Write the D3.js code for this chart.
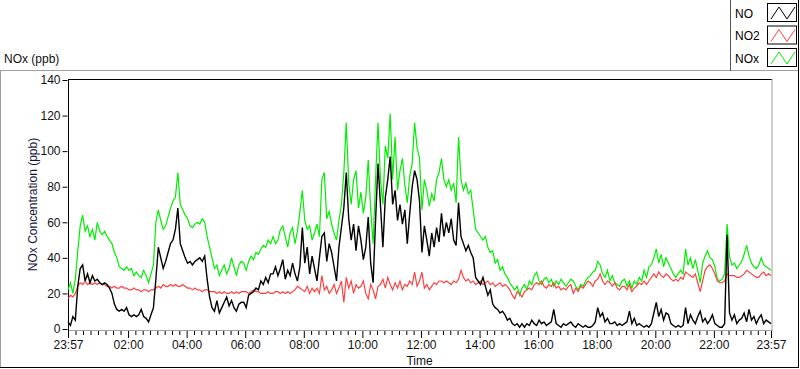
<!DOCTYPE html>
<html><head><meta charset="utf-8">
<script src="https://cdn.jsdelivr.net/npm/d3@7"></script>
<style>
body{margin:0;background:#fff;}
svg{display:block;font-family:"Liberation Sans",Arial,sans-serif;font-size:12px;}
</style>
</head><body>
<svg id="chart" width="800" height="369"></svg>
<script>
// ---- data (one reading every 5 minutes, starting 23:57) ----
const startClock = [23, 57];
const stepMinutes = 5;
const seriesNames = ["NO", "NO2", "NOx"];
const NO = [
 4,2,7,5,24,34,36,27,31,26,30,27,
 28,26,25,26,25,23,20,14,11,10,11,10,
 12,8,7,8,7,8,11,7,6,4,8,12,
 28,46,40,34,38,43,48,50,56,68,48,44,
 40,37,38,36,38,39,40,38,41,28,18,12,
 10,16,9,12,15,18,13,16,12,10,14,15,
 15,12,19,20,21,23,22,27,25,29,26,31,
 31,35,30,34,39,28,33,30,37,31,27,35,
 57,37,46,31,41,34,27,40,52,54,38,48,
 43,35,27,46,57,68,88,62,50,59,44,58,
 50,39,46,63,37,26,61,93,70,46,74,84,
 97,70,78,61,70,59,67,48,65,80,89,84,
 72,43,58,50,41,54,46,57,49,65,52,60,
 54,62,50,47,71,52,48,44,47,43,40,29,
 27,25,29,24,19,22,14,12,11,9,10,8,
 5,6,3,2,3,1,3,1,3,2,5,3,
 2,5,3,4,2,3,4,11,3,2,1,3,
 2,3,4,2,1,3,2,1,2,1,1,2,
 4,12,7,9,4,6,3,3,4,2,3,2,
 3,4,10,3,6,2,3,2,1,2,1,3,
 9,15,7,11,5,9,8,3,2,1,2,1,
 2,12,3,8,5,3,7,10,4,6,3,5,
 8,3,2,1,1,3,53,9,5,8,3,5,
 6,9,4,11,5,7,3,6,8,3,5,4,
 3];
const NO2 = [
 17,19,18,20,24,26,25,27,25,26,25,26,
 25,26,25,25,24,24,23,24,23,23,24,23,
 23,22,22,23,22,22,21,22,22,21,22,22,
 23,24,23,25,24,24,25,24,25,24,24,25,
 24,23,23,22,23,22,22,21,22,22,21,21,
 21,20,21,20,21,20,20,21,20,21,20,21,
 21,21,20,21,22,21,21,20,20,20,21,20,
 20,21,21,20,21,20,21,20,21,22,24,23,
 22,21,24,20,23,21,23,20,30,22,24,20,
 22,25,20,23,27,15,29,23,27,20,25,23,
 24,27,20,17,25,22,17,24,25,28,23,29,
 25,22,26,23,27,22,25,24,27,25,32,24,
 27,32,23,25,22,24,26,25,27,27,26,27,
 26,25,27,26,28,33,29,27,28,26,27,25,
 26,27,25,26,27,25,26,24,25,26,24,25,
 24,22,19,17,21,20,18,21,22,23,22,25,
 26,25,27,24,23,25,24,26,23,24,22,23,
 22,24,25,20,23,21,24,23,25,27,26,24,
 27,28,31,27,25,27,26,24,26,23,22,24,
 24,22,25,21,23,24,26,25,27,25,27,29,
 31,29,32,30,29,31,30,28,27,28,27,29,
 28,32,31,30,29,31,26,21,27,33,35,36,
 34,31,27,26,26,27,31,30,30,30,29,29,
 30,31,33,32,31,30,29,29,31,32,30,31,
 30];
const NOx = [
 22,26,20,28,44,58,64,55,58,52,56,50,
 60,55,53,55,52,50,48,43,40,35,34,33,
 35,33,34,30,32,30,29,33,30,26,31,36,
 60,67,61,56,58,63,68,72,74,88,70,67,
 64,62,58,57,59,60,59,62,60,52,46,40,
 34,36,30,33,36,31,34,40,35,30,36,38,
 37,33,38,41,39,43,42,45,47,46,50,48,
 52,48,50,56,58,52,46,54,57,48,55,66,
 78,61,56,58,50,54,59,52,84,88,62,66,
 59,54,50,61,70,88,116,82,70,84,89,68,
 77,65,74,95,67,48,84,116,84,70,103,96,
 121,84,108,78,89,96,81,71,86,93,116,102,
 96,67,84,78,69,76,72,84,88,96,84,80,
 84,78,82,71,108,84,78,82,76,78,67,56,
 54,52,50,52,46,43,44,37,39,33,35,31,
 29,26,24,22,24,19,23,25,22,27,25,30,
 32,27,25,28,29,26,28,24,27,25,28,26,
 24,26,28,27,24,22,25,24,27,29,30,32,
 33,38,36,31,29,33,27,30,26,25,24,27,
 28,24,27,23,27,25,29,27,33,29,35,36,
 40,45,37,42,35,40,37,34,31,29,31,33,
 31,45,36,40,34,39,33,26,37,41,44,40,
 39,35,28,27,28,31,59,41,36,37,34,36,
 38,42,47,41,37,35,34,36,40,36,35,34,
 33];
const yTicks = [0, 20, 40, 60, 80, 100, 120, 140];
const xTickLabels = ["23:57","02:00","04:00","06:00","08:00","10:00","12:00","14:00","16:00","18:00","20:00","22:00","23:57"];
const colors = {NO: "#000000", NO2: "#ff4040", NOx: "#00ee00"};

// ---- scales ----
const svg = d3.select("#chart");
const t0 = new Date(2020, 0, 1, startClock[0], startClock[1]);
const tEnd = new Date(t0.getTime() + 24 * 60 * 60000);
const timeAt = i => new Date(t0.getTime() + i * stepMinutes * 60000);
const plot = {left: 68, right: 771, top: 80, bottom: 329};
const x = d3.scaleTime().domain([t0, tEnd]).range([plot.left, plot.right]);
const y = d3.scaleLinear().domain([0, 140]).range([plot.bottom, plot.top]);

// major tick dates from labels
const majorDates = xTickLabels.map((lab, k) => {
  if (k === 0) return t0;
  if (k === xTickLabels.length - 1) return tEnd;
  const [h, m] = lab.split(":").map(Number);
  return new Date(2020, 0, 2, h, m);
});
const minorDates = [];
for (let k = 0; k < majorDates.length - 1; k++) {
  const a = majorDates[k].getTime(), b = majorDates[k + 1].getTime();
  if (k === 0) {
    for (let j = 1; j < 8; j++) minorDates.push(new Date(a + (b - a) * j / 8));
  } else {
    for (let m = a + 15 * 60000; m < b - 60000; m += 15 * 60000) minorDates.push(new Date(m));
  }
}

// ---- outer panel ----
svg.append("line").attr("x1", 0).attr("x2", 799).attr("y1", 70.5).attr("y2", 70.5).attr("stroke", "#a0a0a0");
svg.append("line").attr("x1", 0.5).attr("x2", 0.5).attr("y1", 70).attr("y2", 368).attr("stroke", "#a0a0a0");
svg.append("line").attr("x1", 0).attr("x2", 799).attr("y1", 367.5).attr("y2", 367.5).attr("stroke", "#000");
svg.append("line").attr("x1", 798.5).attr("x2", 798.5).attr("y1", 0).attr("y2", 368).attr("stroke", "#000");

svg.append("text").attr("x", 4).attr("y", 63).attr("fill", "#111").text("NOx (ppb)");

// ---- legend ----
svg.append("line").attr("x1", 730.5).attr("x2", 730.5).attr("y1", 0).attr("y2", 71).attr("stroke", "#555");
const rowsY = [13, 35.5, 58];
seriesNames.forEach((name, k) => {
  const cy = rowsY[k];
  svg.append("text").attr("x", 735).attr("y", cy + 4.5).attr("fill", "#000").text(name);
  svg.append("rect").attr("x", 767.5).attr("y", cy - 9.5).attr("width", 29).attr("height", 18)
    .attr("fill", "#fff").attr("stroke", "#000");
  const zx = [771, 779, 787, 795], zy = [cy + 6, cy - 6, cy + 6, cy - 6];
  svg.append("polyline").attr("points", zx.map((v, i) => v + "," + zy[i]).join(" "))
    .attr("fill", "none").attr("stroke", colors[name]).attr("stroke-width", 1);
});

// ---- plot frame ----
svg.append("line").attr("x1", plot.left).attr("x2", 772).attr("y1", 79.5).attr("y2", 79.5).attr("stroke", "#000");
svg.append("line").attr("x1", 772).attr("x2", 772).attr("y1", 79).attr("y2", 331).attr("stroke", "#a0a0a0");
svg.append("line").attr("x1", plot.left).attr("x2", 772.5).attr("y1", 330.5).attr("y2", 330.5).attr("stroke", "#a0a0a0");
svg.append("line").attr("x1", 68.5).attr("x2", 68.5).attr("y1", 79).attr("y2", 331).attr("stroke", "#000");

// ---- y axis ----
const yAxis = d3.axisLeft(y).tickValues(yTicks).tickSize(5).tickPadding(2);
const gy = svg.append("g").attr("transform", "translate(67.5,0)").call(yAxis);
gy.select(".domain").remove();
gy.selectAll("text").attr("font-size", 12).attr("font-family", "Liberation Sans, Arial, sans-serif").attr("fill", "#111");
gy.selectAll("line").attr("stroke", "#000");
svg.append("text").attr("transform", "translate(37,204.5) rotate(-90)").attr("text-anchor", "middle")
  .attr("fill", "#14143c").text("NOx Concentration (ppb)");

// ---- x axis ----
const fmt = (d, i) => xTickLabels[i];
const xAxis = d3.axisBottom(x).tickValues(majorDates).tickFormat(fmt).tickSize(7).tickPadding(2);
const gx = svg.append("g").attr("transform", "translate(0,331)").call(xAxis);
gx.select(".domain").remove();
gx.selectAll("text").attr("font-size", 12).attr("font-family", "Liberation Sans, Arial, sans-serif").attr("fill", "#111");
gx.selectAll("line").attr("stroke", "#000");
const xMinor = d3.axisBottom(x).tickValues(minorDates).tickSize(4).tickFormat("");
const gxm = svg.append("g").attr("transform", "translate(0,331)").call(xMinor);
gxm.select(".domain").remove();
gxm.selectAll("line").attr("stroke", "#000");
svg.append("text").attr("x", 419.5).attr("y", 365).attr("text-anchor", "middle").attr("fill", "#111").text("Time");

// ---- lines ----
const line = d3.line().x((d, i) => x(timeAt(i))).y(d => y(d));
const dataBy = {NO: NO, NO2: NO2, NOx: NOx};
["NOx", "NO2", "NO"].forEach(name => {
  svg.append("path").datum(dataBy[name]).attr("d", line)
    .attr("fill", "none").attr("stroke", colors[name])
    .attr("stroke-width", name === "NO" ? 1.4 : 1.2).attr("stroke-linejoin", "miter");
});
</script>
</body></html>
